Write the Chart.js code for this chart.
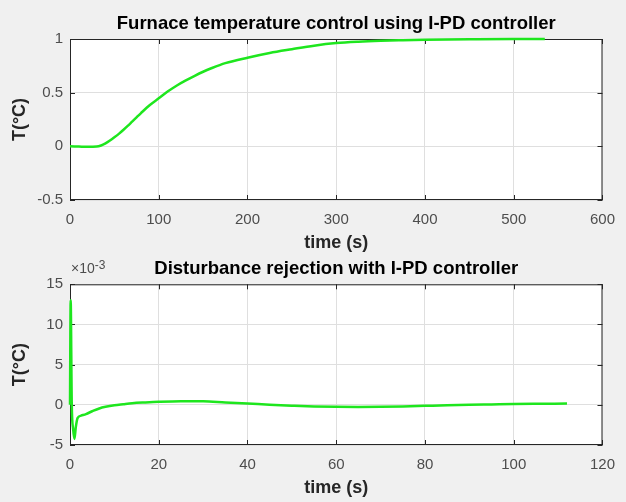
<!DOCTYPE html>
<html>
<head>
<meta charset="utf-8">
<script src="https://cdn.jsdelivr.net/npm/chart.js@4.4.1/dist/chart.umd.min.js"></script>
<style>
  body { margin: 0; background: #f0f0f0; }
  #wrap { position: relative; width: 626px; height: 502px; }
  canvas { position: absolute; left: 0; }
</style>
</head>
<body>
<div id="wrap">
  <canvas id="stepChart" width="626" height="258" style="top:0"></canvas>
  <canvas id="distChart" width="626" height="244" style="top:258px"></canvas>
</div>
<script>
// STEP RESPONSE DATA (top plot)
const stepTime = [0, 10, 20, 30, 35, 40, 45, 50, 55, 60, 65, 70, 75, 80, 90, 100, 110, 120, 130, 140,
  150, 160, 175, 200, 225, 250, 275, 300, 325, 350, 375, 400, 450, 500, 535];
const stepTemp = [0, -0.002, -0.004, -0.002, 0.008, 0.028, 0.054, 0.084, 0.116, 0.152, 0.19, 0.23, 0.27, 0.31,
  0.385, 0.447, 0.51, 0.565, 0.612, 0.655, 0.695, 0.73, 0.775, 0.826, 0.87, 0.905, 0.938, 0.962, 0.975,
  0.983, 0.988, 0.992, 0.997, 1.0, 1.0];
const stepXTicks = [0, 100, 200, 300, 400, 500, 600];
const stepYTicks = [-0.5, 0, 0.5, 1];

// DISTURBANCE DATA (bottom plot, values in x10^-3)
const distTime = [0, 0.15, 0.4, 0.7, 1.0, 1.3, 1.7, 2.5, 3.6, 5, 6.6, 8, 10, 12, 14, 17, 20, 25, 30, 35,
  40, 45, 50, 55, 60, 65, 70, 75, 80, 85, 90, 95, 100, 106, 112];
const distTemp = [0, 13, 0, -3, -4.25, -2.8, -1.65, -1.35, -1.15, -0.8, -0.45, -0.25, -0.05, 0.08, 0.2, 0.3,
  0.38, 0.45, 0.45, 0.3, 0.17, 0.02, -0.1, -0.2, -0.25, -0.27, -0.25, -0.2, -0.13, -0.06, 0, 0.05, 0.1, 0.13, 0.15];
const distXTicks = [0, 20, 40, 60, 80, 100, 120];
const distYTicks = [-5, 0, 5, 10, 15];

const FONT = "'Liberation Sans', Arial, sans-serif";
const TICK_COLOR = '#4d4d4d';

// white axes background, box, inward tick marks and title like matlab
const matlabAxes = {
  id: 'matlabAxes',
  beforeDraw(chart) {
    const { ctx, chartArea: a } = chart;
    ctx.save();
    ctx.fillStyle = '#fff';
    ctx.fillRect(a.left, a.top, a.right - a.left, a.bottom - a.top);
    ctx.restore();
  },
  beforeDatasetsDraw(chart) {
    const { ctx, chartArea: a, scales: { x, y } } = chart;
    ctx.save();
    ctx.strokeStyle = '#262626';
    ctx.lineWidth = 1;
    ctx.strokeRect(a.left + 0.5, a.top + 0.5, a.right - a.left - 1, a.bottom - a.top - 1);
    ctx.beginPath();
    x.ticks.forEach(t => {
      const px = Math.round(x.getPixelForValue(t.value)) + 0.5;
      ctx.moveTo(px, a.bottom); ctx.lineTo(px, a.bottom - 5);
      ctx.moveTo(px, a.top); ctx.lineTo(px, a.top + 5);
    });
    y.ticks.forEach(t => {
      const py = Math.round(y.getPixelForValue(t.value)) + 0.5;
      ctx.moveTo(a.left, py); ctx.lineTo(a.left + 5, py);
      ctx.moveTo(a.right, py); ctx.lineTo(a.right - 5, py);
    });
    ctx.stroke();
    ctx.restore();
  },
  afterDraw(chart, args, opts) {
    const { ctx, chartArea: a } = chart;
    ctx.save();
    // title centred over the axes
    ctx.fillStyle = '#000';
    ctx.textAlign = 'center';
    ctx.textBaseline = 'alphabetic';
    ctx.font = 'bold 18.5px ' + FONT;
    ctx.fillText(opts.title, (a.left + a.right) / 2, a.top - 10);
    if (opts.exponent) {
      ctx.fillStyle = TICK_COLOR;
      ctx.textAlign = 'left';
      ctx.font = '14px ' + FONT;
      ctx.fillText('\u00d710', a.left + 1, a.top - 11);
      const w = ctx.measureText('\u00d710').width;
      ctx.font = '12px ' + FONT;
      ctx.fillText(opts.exponent, a.left + 1 + w, a.top - 15);
    }
    ctx.restore();
  }
};

function makeChart(id, xs, ys, xTicks, yTicks, title, padTop, xHeight, padBottom, exponent) {
  return new Chart(document.getElementById(id), {
    type: 'line',
    data: {
      datasets: [{
        data: xs.map((t, i) => ({ x: t, y: ys[i] })),
        borderColor: '#1ee61e',
        borderWidth: 2.5,
        pointRadius: 0,
        cubicInterpolationMode: 'monotone',
        clip: 4
      }]
    },
    options: {
      responsive: false,
      animation: false,
      devicePixelRatio: 1,
      layout: { padding: { left: 0, right: 21, top: padTop, bottom: padBottom } },
      plugins: {
        legend: { display: false },
        tooltip: { enabled: false },
        title: { display: false },
        matlabAxes: { title: title, exponent: exponent }
      },
      scales: {
        x: {
          type: 'linear',
          min: xTicks[0],
          max: xTicks[xTicks.length - 1],
          afterBuildTicks: s => { s.ticks = xTicks.map(v => ({ value: v })); },
          afterFit: s => { s.height = xHeight; },
          ticks: { color: TICK_COLOR, font: { family: FONT, size: 15 }, padding: 11, maxRotation: 0,
            callback: v => String(v) },
          grid: { color: '#dfdfdf', drawTicks: false },
          border: { display: false },
          title: {
            display: true, text: 'time (s)', color: '#262626',
            font: { family: FONT, size: 18, weight: 'bold' },
            padding: { top: 0, bottom: 3 }
          }
        },
        y: {
          min: yTicks[0],
          max: yTicks[yTicks.length - 1],
          afterBuildTicks: s => { s.ticks = yTicks.map(v => ({ value: v })); },
          afterFit: s => { s.width = 70; },
          ticks: { color: TICK_COLOR, font: { family: FONT, size: 15 }, padding: 7,
            callback: v => String(v) },
          grid: { color: '#dfdfdf', drawTicks: false },
          border: { display: false },
          title: {
            display: true, text: 'T(\u00b0C)', color: '#262626',
            font: { family: FONT, size: 18, weight: 'bold' },
            padding: { top: 9.6, bottom: 0 }
          }
        }
      }
    },
    plugins: [matlabAxes]
  });
}

makeChart('stepChart', stepTime, stepTemp, stepXTicks, stepYTicks,
  'Furnace temperature control using I-PD controller', 39, 56.5, 1.5, null);
makeChart('distChart', distTime, distTemp, distXTicks, distYTicks,
  'Disturbance rejection with I-PD controller', 26.3, 56.5, 0.5, '-3');
</script>
</body>
</html>
